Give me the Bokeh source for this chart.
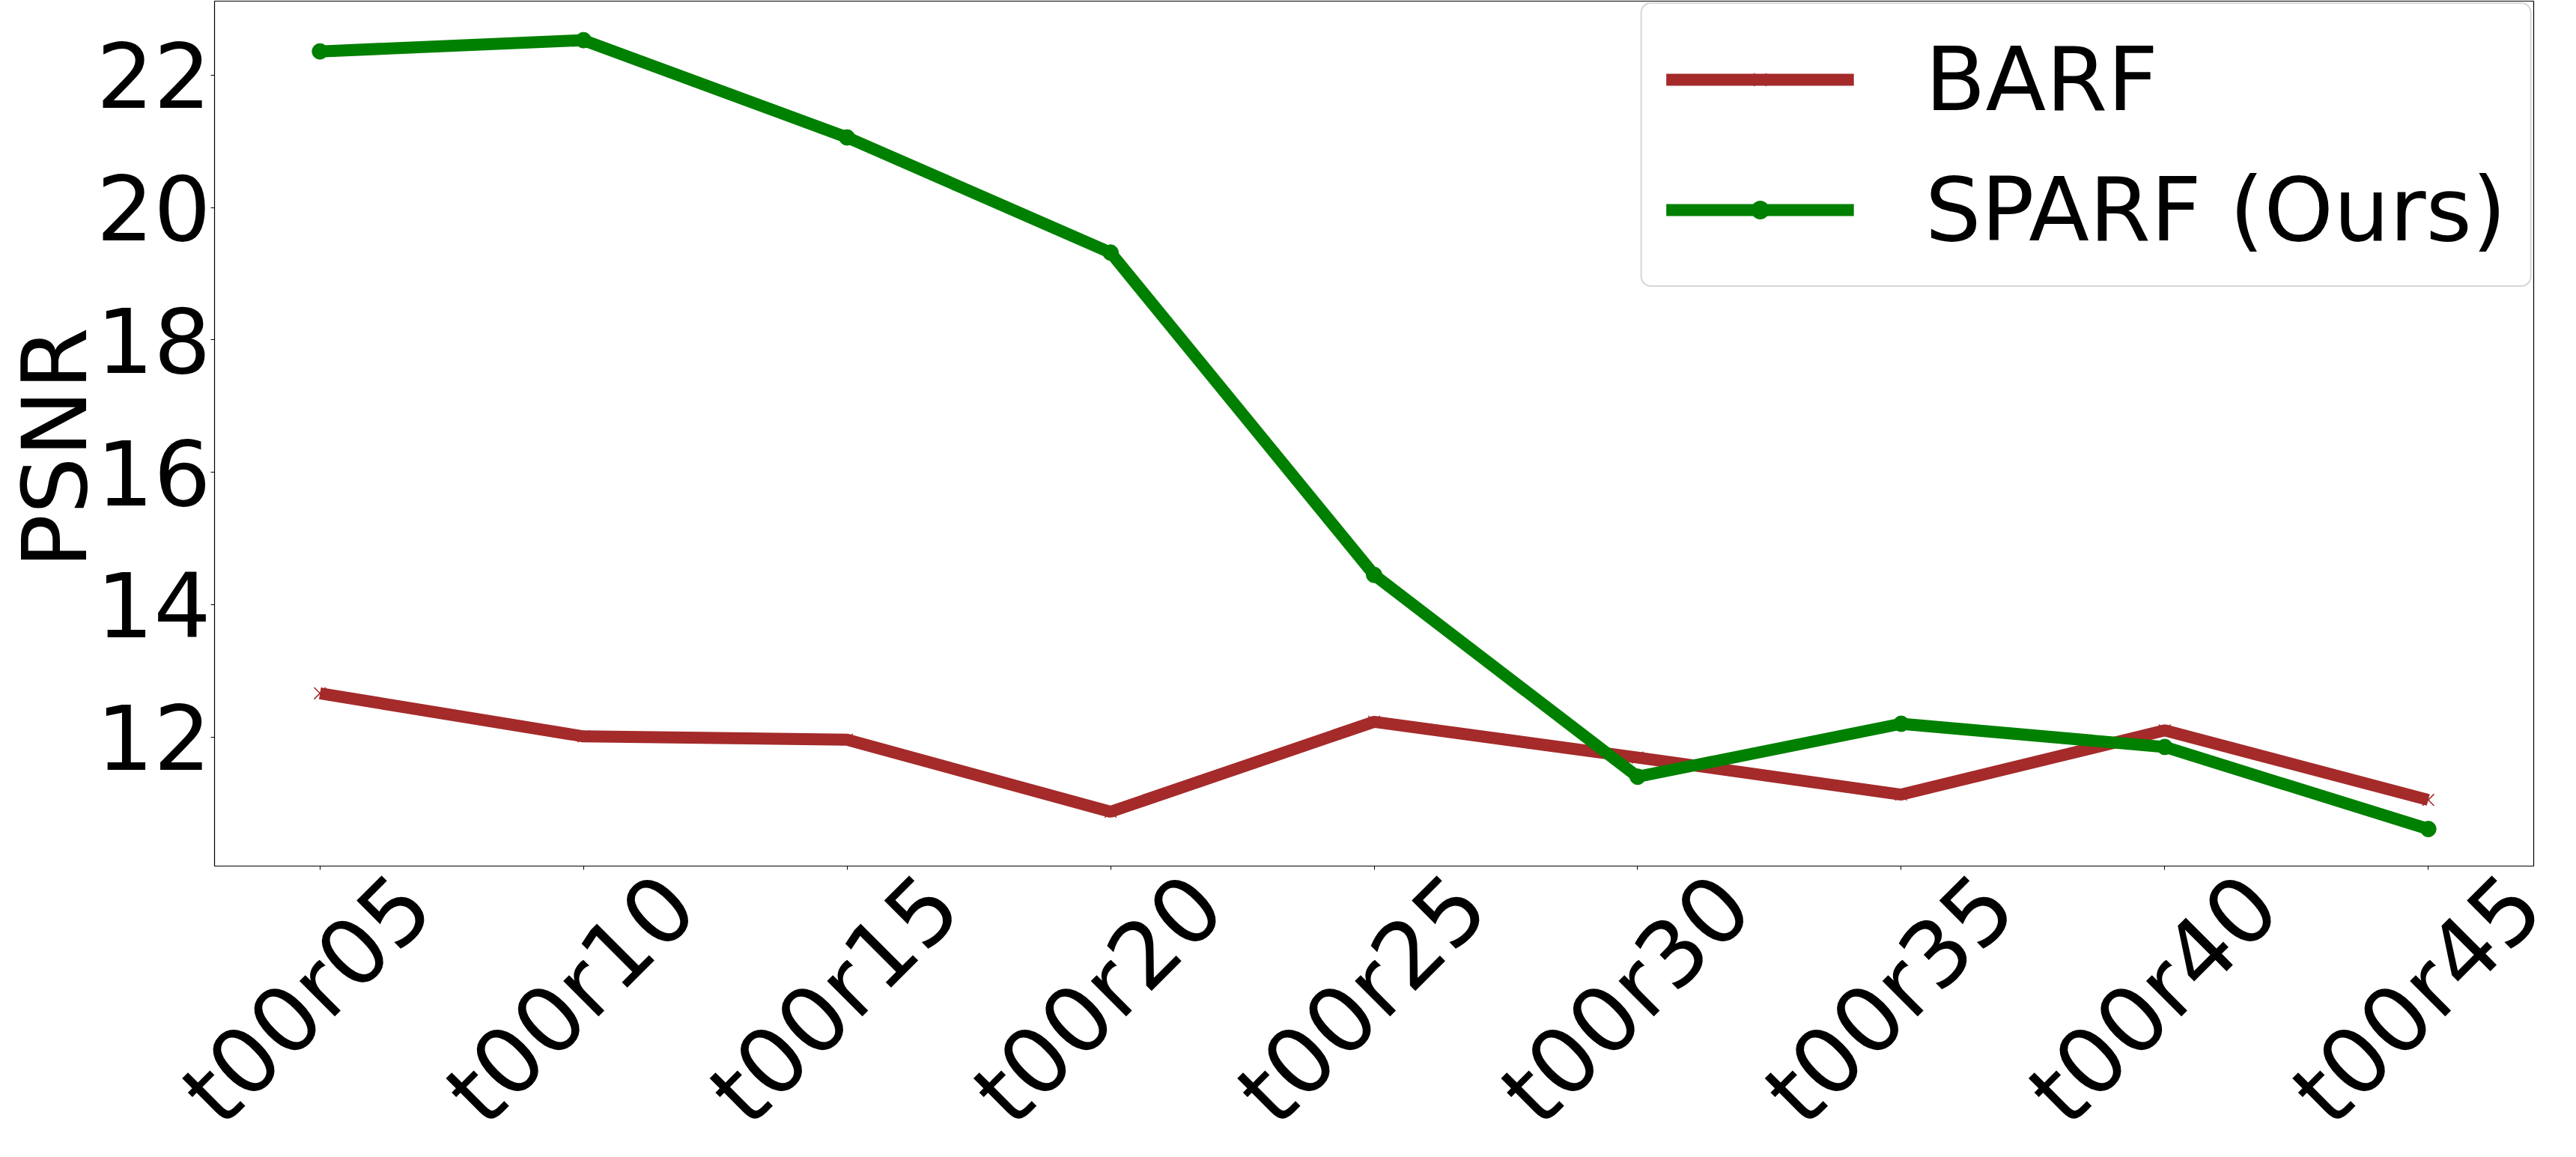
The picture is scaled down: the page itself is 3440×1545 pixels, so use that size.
from math import pi
from bokeh.plotting import figure
from bokeh.models import Range1d, FixedTicker, Legend, LegendItem
from bokeh.core.properties import value
from bokeh.embed import file_html
from bokeh.resources import INLINE

# ---- data ----
categories = ["t00r05", "t00r10", "t00r15", "t00r20", "t00r25",
              "t00r30", "t00r35", "t00r40", "t00r45"]
barf_psnr = [12.66, 12.01, 11.96, 10.87, 12.23, 11.69, 11.13, 12.10, 11.05]
sparf_psnr = [22.36, 22.53, 21.06, 19.32, 14.45, 11.40, 12.20, 11.85, 10.61]
y_ticks = [12, 14, 16, 18, 20, 22]
series_names = ["BARF", "SPARF (Ours)"]
y_label = "PSNR"

FONT = "DejaVu Sans"
RED = "#a52a2a"
GREEN = "#008000"

# ---- layout constants (pixels) ----
W = 3424
H_MAIN = 1166
OV = 50                       # overlap of the label strip over the plot's bottom border
H_LAB = 1529 - H_MAIN + OV
BL, BR = 283, 41
X0, X1 = -0.4, len(categories) - 1 + 0.4

xs = list(range(len(categories)))
x_range = Range1d(X0, X1)

p = figure(width=W, height=H_MAIN, output_backend="svg", toolbar_location=None,
           x_range=x_range, y_range=Range1d(10.05, 23.12),
           min_border_left=BL, min_border_right=BR,
           min_border_top=1, min_border_bottom=H_MAIN - 1156)

p.background_fill_color = "white"
p.border_fill_color = "white"
p.outline_line_color = "black"
p.outline_line_width = 1.2
p.xgrid.visible = False
p.ygrid.visible = False

# y axis
p.yaxis.ticker = FixedTicker(ticks=y_ticks)
p.yaxis.major_label_text_font = FONT
p.yaxis.major_label_text_font_size = "120px"
p.yaxis.major_label_text_color = "black"
p.yaxis.major_tick_out = 5
p.yaxis.major_tick_in = 0
p.yaxis.minor_tick_out = 0
p.yaxis.minor_tick_in = 0
p.yaxis.major_label_standoff = 0
p.yaxis.axis_line_color = "black"
p.yaxis.axis_label = y_label + " "
p.yaxis.axis_label_text_font = FONT
p.yaxis.axis_label_text_font_size = "120px"
p.yaxis.axis_label_text_font_style = "normal"
p.yaxis.axis_label_text_color = "black"
p.yaxis.axis_label_standoff = -17

# x axis: tick marks only (labels are drawn in the strip below)
p.xaxis.ticker = FixedTicker(ticks=xs)
p.xaxis.major_label_overrides = {i: "" for i in xs}
p.xaxis.major_label_text_font_size = "0px"
p.xaxis.major_label_standoff = 0
p.xaxis.major_tick_out = 5
p.xaxis.major_tick_in = 0
p.xaxis.minor_tick_out = 0
p.xaxis.minor_tick_in = 0
p.xaxis.axis_line_color = "black"

# series
r1 = p.line(xs, barf_psnr, line_color=RED, line_width=16)
s1 = p.scatter(xs, barf_psnr, marker="x", size=22, line_color=RED, line_width=1.5)
r2 = p.line(xs, sparf_psnr, line_color=GREEN, line_width=16)
s2 = p.scatter(xs, sparf_psnr, marker="circle", size=21,
               fill_color=GREEN, line_color=GREEN)

legend = Legend(items=[LegendItem(label=series_names[0], renderers=[r1, s1]),
                       LegendItem(label=series_names[1], renderers=[r2, s2])],
                location="top_right", margin=2, padding=32, spacing=36,
                glyph_width=251, glyph_height=60, label_standoff=95,
                label_text_font=FONT, label_text_font_size="118px",
                label_text_color="black",
                border_line_color="#cccccc", border_line_alpha=0.8,
                border_line_width=2, border_radius=14,
                background_fill_color="white", background_fill_alpha=0.8)
p.add_layout(legend)

# transparent full-width strip below the plot holding the rotated category labels
ppu = (W - BL - BR) / (X1 - X0)
q = figure(width=W, height=H_LAB, output_backend="svg", toolbar_location=None,
           x_range=Range1d(X0 - BL / ppu, X1 + BR / ppu), y_range=Range1d(0, H_LAB),
           x_axis_location=None, y_axis_location=None,
           min_border_left=0, min_border_right=0,
           min_border_top=0, min_border_bottom=0,
           margin=(-OV, 0, 0, 0))
q.outline_line_color = None
q.xgrid.visible = False
q.ygrid.visible = False
q.background_fill_color = None
q.border_fill_color = None

strip_top = 8 + H_MAIN - OV
label_center_from_top = 1342 - strip_top
q.text(x=xs, y=[H_LAB - label_center_from_top] * len(xs), text=categories,
       angle=pi / 4, text_align="center", text_baseline="middle",
       x_offset=-14, text_font=value(FONT), text_font_size="122px",
       text_color="black")

open("out.html", "w").write(file_html([p, q], INLINE))
